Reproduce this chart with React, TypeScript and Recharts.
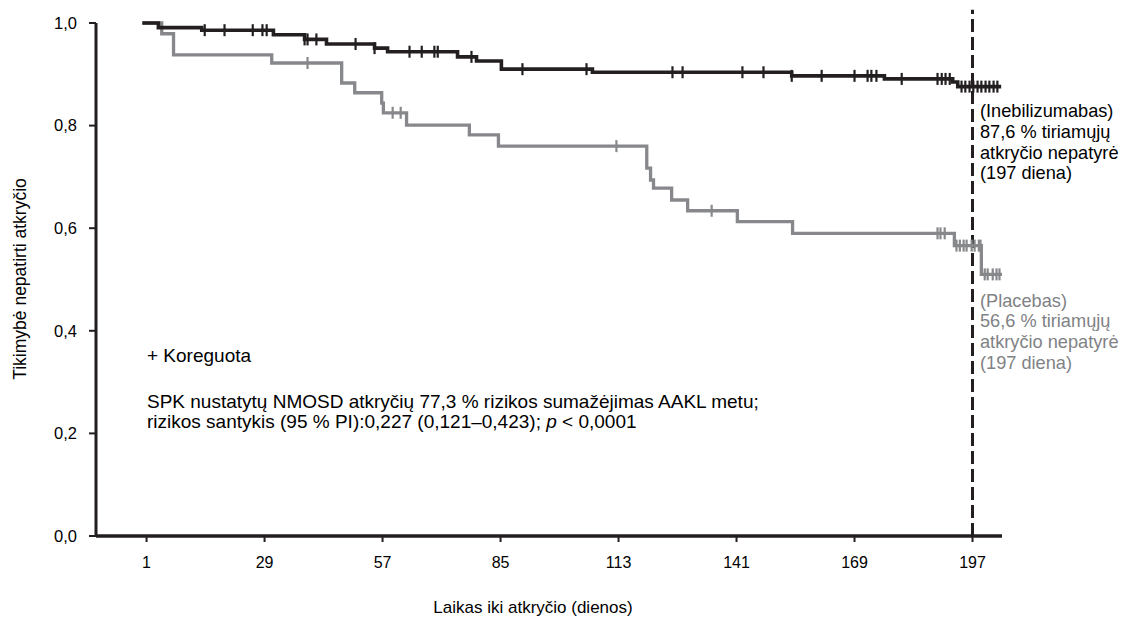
import React from 'react';
import { ComposedChart, Line, XAxis, YAxis, ReferenceLine, Customized } from 'recharts';

const xTicks = [1, 29, 57, 85, 113, 141, 169, 197];
const yTicks = [0, 0.2, 0.4, 0.6, 0.8, 1.0];

// Inebilizumabas (black)
const inebStepDays = [0, 3.8, 14.1, 31.1, 38.5, 43.7, 55.1, 58.2, 74.8, 79.3, 85.2, 106.8, 154.1, 176.1, 192.3, 193.5, 203.8];
const inebStepSurv = [1.0, 0.991, 0.986, 0.977, 0.968, 0.959, 0.951, 0.944, 0.934, 0.926, 0.91, 0.904, 0.897, 0.891, 0.885, 0.876, 0.876];
const inebCensorDays = [14.8, 19.5, 26.2, 28.5, 29.5, 38.5, 39.2, 41.3, 50.6, 55.1, 63.4, 66.3, 69.3, 70.1, 78.1, 90.2, 105.4, 125.8, 128.2, 142.4, 147.4, 154.1, 161.2, 169.0, 172.1, 173.0, 174.2, 180.2, 188.7, 189.7, 190.6, 191.6, 194.4, 195.3, 196.3, 197.2, 198.2, 199.1, 200.1, 201.0, 202.0, 202.9];

// Placebas (grey)
const placStepDays = [0, 4.6, 7.4, 30.7, 47.3, 50.4, 56.8, 57.2, 62.7, 77.6, 84.5, 119.7, 120.6, 121.3, 125.6, 129.4, 141.2, 154.3, 192.7, 199.1, 204.0];
const placStepSurv = [1.0, 0.979, 0.938, 0.922, 0.883, 0.864, 0.844, 0.825, 0.801, 0.782, 0.76, 0.717, 0.694, 0.678, 0.655, 0.634, 0.613, 0.59, 0.566, 0.51, 0.51];
const placCensorDays = [39.2, 59.4, 61.3, 112.5, 135.1, 188.7, 189.4, 190.4, 193.2, 194.0, 194.9, 195.6, 196.8, 197.5, 198.5, 198.9, 199.9, 200.6, 201.8, 202.7, 203.4];

const BLACK = '#231f20';
const GREY = '#87888b';
const FONT = '"Liberation Sans", Arial, sans-serif';

function buildSeries(days: number[], surv: number[], censor: number[]) {
  const pts: { d: number; s: number; c: boolean }[] = days.map((d, i) => ({ d, s: surv[i], c: false }));
  censor.forEach((cd) => {
    let v = surv[0];
    for (let i = 0; i < days.length; i++) if (days[i] <= cd) v = surv[i];
    pts.push({ d: cd, s: v, c: true });
  });
  pts.sort((a, b) => a.d - b.d || (a.c === b.c ? 0 : a.c ? 1 : -1));
  return pts;
}

const inebData = buildSeries(inebStepDays, inebStepSurv, inebCensorDays);
const placData = buildSeries(placStepDays, placStepSurv, placCensorDays);

const censorDot = (color: string) => (props: any) => {
  const { cx, cy, payload, index } = props;
  if (!payload || !payload.c || cx == null || cy == null) return <g key={`n${index}`} />;
  return <line key={`c${index}`} x1={cx} x2={cx} y1={cy - 6} y2={cy + 6} stroke={color} strokeWidth={2.2} />;
};

const fmt = (v: number) => v.toFixed(1).replace('.', ',');

const Annotations = () => (
  <g style={{ fontFamily: FONT }}>
    <text x={147} y={361.8} fontSize={19} fill="#000">+ Koreguota</text>
    <text x={147} y={407.8} fontSize={19} fill="#000">SPK nustatytų NMOSD atkryčių 77,3 % rizikos sumažėjimas AAKL metu;</text>
    <text x={147} y={427.8} fontSize={19} fill="#000">
      rizikos santykis (95 % PI):0,227 (0,121–0,423); <tspan fontStyle="italic">p</tspan> &lt; 0,0001
    </text>
    <text x={980} fontSize={18.2} fill="#000">
      <tspan x={980} y={116.5}>(Inebilizumabas)</tspan>
      <tspan x={980} y={137.5}>87,6 % tiriamųjų</tspan>
      <tspan x={980} y={158.5}>atkryčio nepatyrė</tspan>
      <tspan x={980} y={178.5}>(197 diena)</tspan>
    </text>
    <text x={980} fontSize={18.2} fill="#808285">
      <tspan x={980} y={306.5}>(Placebas)</tspan>
      <tspan x={980} y={326.5}>56,6 % tiriamųjų</tspan>
      <tspan x={980} y={347.5}>atkryčio nepatyrė</tspan>
      <tspan x={980} y={368.5}>(197 diena)</tspan>
    </text>
    <text x={533} y={612.5} fontSize={17} textAnchor="middle" fill="#000">Laikas iki atkryčio (dienos)</text>
    <text x={25.5} y={279} fontSize={17.5} textAnchor="middle" fill="#000" transform="rotate(-90 25.5 279)">Tikimybė nepatirti atkryčio</text>
  </g>
);

export default function App() {
  return (
    <div style={{ position: 'fixed', left: 0, top: 0, width: 1122, height: 619, background: '#fff' }}>
      <ComposedChart width={1122} height={619} margin={{ top: 23, right: 120, bottom: 0, left: 0 }}>
        <XAxis
          type="number"
          dataKey="d"
          domain={[-11, 204]}
          ticks={xTicks}
          allowDataOverflow
          height={83}
          axisLine={{ stroke: BLACK, strokeWidth: 3.5 }}
          tickLine={{ stroke: BLACK, strokeWidth: 2 }}
          tickSize={6}
          tickMargin={15}
          tick={{ fill: '#000', fontSize: 16, fontFamily: FONT }}
        />
        <YAxis
          type="number"
          dataKey="s"
          domain={[0, 1]}
          ticks={yTicks}
          width={96}
          tickFormatter={fmt}
          axisLine={{ stroke: BLACK, strokeWidth: 3 }}
          tickLine={{ stroke: BLACK, strokeWidth: 2 }}
          tickSize={7}
          tickMargin={12}
          tick={{ fill: '#000', fontSize: 16.5, fontFamily: FONT }}
        />
        <ReferenceLine
          segment={[{ x: 197, y: 0 }, { x: 197, y: 1.026 }]}
          ifOverflow="visible"
          stroke={BLACK}
          strokeWidth={3}
          strokeDasharray="13 5"
        />
        <Line
          data={placData}
          dataKey="s"
          type="stepAfter"
          stroke={GREY}
          strokeWidth={3.3}
          dot={censorDot(GREY)}
          activeDot={false}
          isAnimationActive={false}
        />
        <Line
          data={inebData}
          dataKey="s"
          type="stepAfter"
          stroke={BLACK}
          strokeWidth={3.6}
          dot={censorDot(BLACK)}
          activeDot={false}
          isAnimationActive={false}
        />
        <Customized component={Annotations} />
      </ComposedChart>
    </div>
  );
}
